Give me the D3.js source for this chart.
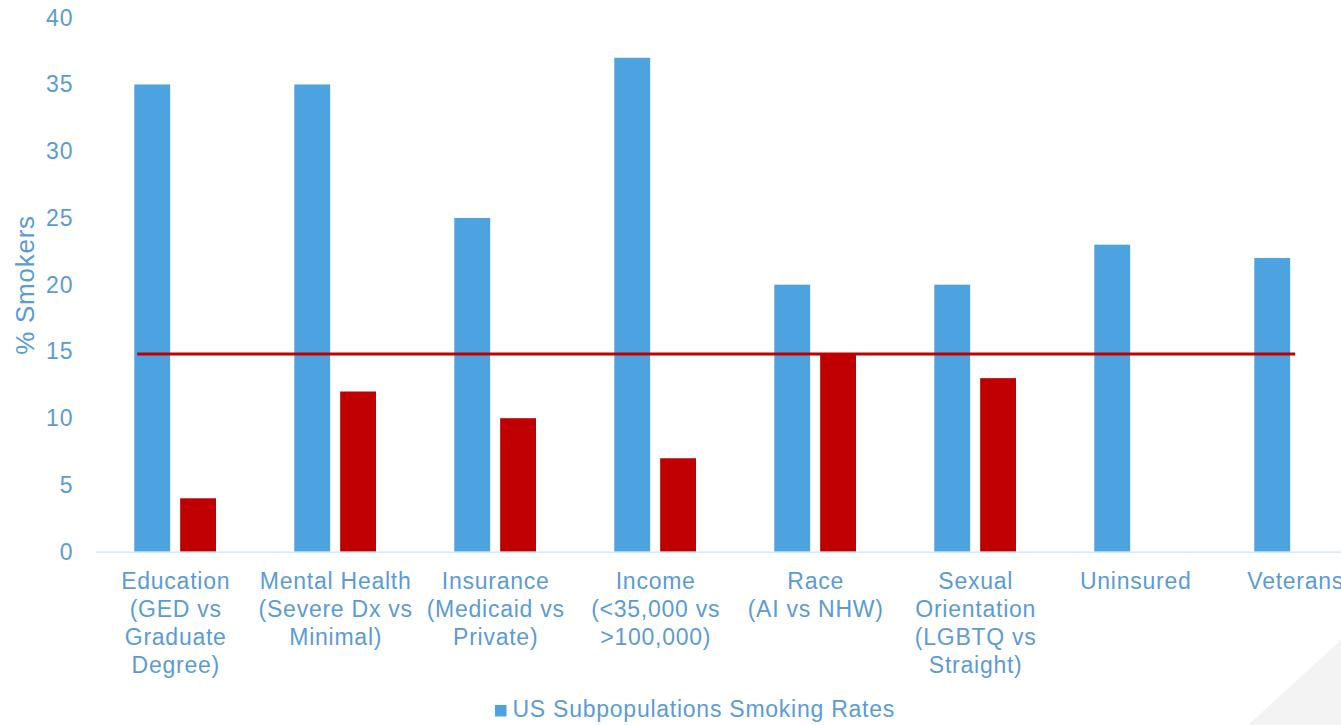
<!DOCTYPE html>
<html>
<head>
<meta charset="utf-8">
<script src="https://cdn.jsdelivr.net/npm/d3@7"></script>
<style>
  html, body { margin: 0; padding: 0; background: #ffffff; }
  svg { display: block; overflow: hidden; }
  svg text { font-family: "Liberation Sans", Arial, sans-serif; letter-spacing: 0.75px; }
</style>
</head>
<body>
<svg id="chart" width="1341" height="725"></svg>
<script>
// Category labels (one entry per line of the axis label)
const categories = [
  ["Education", "(GED vs", "Graduate", "Degree)"],
  ["Mental Health", "(Severe Dx vs", "Minimal)"],
  ["Insurance", "(Medicaid vs", "Private)"],
  ["Income", "(<35,000 vs", ">100,000)"],
  ["Race", "(AI vs NHW)"],
  ["Sexual", "Orientation", "(LGBTQ vs", "Straight)"],
  ["Uninsured"],
  ["Veterans"]
];
const categoryKeys = categories.map(c => c.join(" "));

// Smoking rates (%) for the higher-rate subpopulation
const subpopulationRates = [35, 35, 25, 37, 20, 20, 23, 22];
// Smoking rates (%) for the comparison group (no comparison for the last two)
const comparisonRates = [4, 12, 10, 7, 14.8, 13, null, null];
// US overall adult smoking rate (%)
const overallRate = 14.8;

const yTicks = [0, 5, 10, 15, 20, 25, 30, 35, 40];
const seriesNames = ["US Subpopulations Smoking Rates", "Comparison"];

const blue = "#4DA3DF";
const red = "#C00000";
const textColor = "#5B9BD5";

const svg = d3.select("#chart");

// soft grey corner panel of the slide background
svg.append("polygon")
  .attr("points", "1341,640 1341,725 1248,725")
  .attr("fill", "#f3f3f3");

const x0 = 95.7, bandW = 160;
const x = d3.scaleBand()
  .domain(categoryKeys)
  .range([x0, x0 + bandW * categoryKeys.length])
  .paddingInner(0).paddingOuter(0);

const xSeries = d3.scaleBand()
  .domain(seriesNames)
  .range([38.6, 120.3])
  .paddingInner(0.218).paddingOuter(0);

const y = d3.scaleLinear().domain([0, 40]).range([551.7, 17.7]);

// Y axis (labels only)
const yAxis = svg.append("g")
  .attr("transform", `translate(${x0},0)`)
  .call(d3.axisLeft(y).tickValues(yTicks).tickSize(0).tickPadding(22.5));
yAxis.select(".domain").remove();
yAxis.selectAll("text")
  .attr("fill", textColor)
  .attr("font-size", "23px");

// Y axis title
svg.append("text")
  .attr("transform", `translate(34,${285}) rotate(-90)`)
  .attr("text-anchor", "middle")
  .attr("fill", textColor)
  .attr("font-size", "26px")
  .text("% Smokers");

// Bars
const groups = svg.append("g").selectAll("g")
  .data(categoryKeys)
  .join("g")
  .attr("transform", d => `translate(${x(d)},0)`);

groups.append("rect")
  .attr("x", xSeries(seriesNames[0]))
  .attr("width", xSeries.bandwidth())
  .attr("y", (d, i) => y(subpopulationRates[i]))
  .attr("height", (d, i) => y(0) - y(subpopulationRates[i]))
  .attr("fill", blue);

groups.filter((d, i) => comparisonRates[i] != null)
  .append("rect")
  .attr("x", xSeries(seriesNames[1]))
  .attr("width", xSeries.bandwidth())
  .attr("y", d => y(comparisonRates[categoryKeys.indexOf(d)]))
  .attr("height", d => y(0) - y(comparisonRates[categoryKeys.indexOf(d)]))
  .attr("fill", red);

// X axis
const xAxis = svg.append("g")
  .attr("transform", `translate(0,${y(0)})`)
  .call(d3.axisBottom(x).tickSize(0).tickFormat(""));
xAxis.select(".domain").attr("stroke", "#cfe3f3").attr("stroke-width", 1.2);

xAxis.selectAll(".tick").each(function (d, i) {
  const t = d3.select(this).append("text")
    .attr("fill", textColor)
    .attr("font-size", "23px")
    .attr("text-anchor", "middle")
    .attr("y", 37.6);
  categories[i].forEach((line, j) => {
    t.append("tspan").attr("x", 0).attr("dy", j === 0 ? 0 : 28).text(line);
  });
});

// Overall rate reference line
const lineX1 = x(categoryKeys[0]) + 41.5;
const lineX2 = x(categoryKeys[categoryKeys.length - 1]) + 79.5;
svg.append("line")
  .attr("x1", lineX1).attr("x2", lineX2)
  .attr("y1", y(overallRate)).attr("y2", y(overallRate))
  .attr("stroke", red).attr("stroke-width", 3);

// Legend
const legend = svg.append("g").attr("transform", "translate(495,705)");
legend.append("rect").attr("width", 11.5).attr("height", 11.5).attr("fill", blue);
legend.append("text")
  .attr("x", 17.5).attr("y", 12)
  .attr("fill", textColor)
  .attr("font-size", "23px")
  .text(seriesNames[0]);
</script>
</body>
</html>
